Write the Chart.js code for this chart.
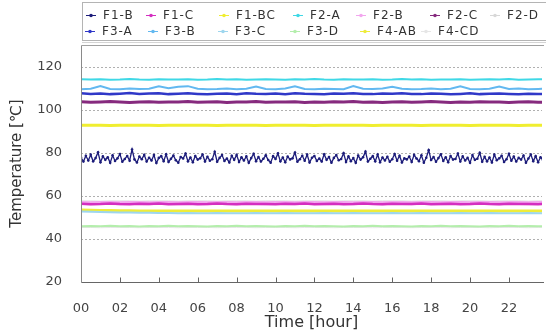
<!DOCTYPE html>
<html>
<head>
<meta charset="utf-8">
<script src="https://cdn.jsdelivr.net/npm/chart.js@4"></script>
<style>
  body { margin: 0; background: #fff; }
  canvas { display: block; }
</style>
</head>
<body>
<canvas id="tempChart" width="546" height="332"></canvas>
<script>
// sensor names, in legend order
const labels = ['F1-B', 'F1-C', 'F1-BC', 'F2-A', 'F2-B', 'F2-C', 'F2-D',
                'F3-A', 'F3-B', 'F3-C', 'F3-D', 'F4-AB', 'F4-CD'];

const xTicks = [0, 2, 4, 6, 8, 10, 12, 14, 16, 18, 20, 22];
const yTicks = [20, 40, 60, 80, 100, 120];

// sample times [hour]
const halfHours = [0, 0.5, 1, 1.5, 2, 2.5, 3, 3.5, 4, 4.5, 5, 5.5, 6, 6.5, 7, 7.5,
    8, 8.5, 9, 9.5, 10, 10.5, 11, 11.5, 12, 12.5, 13, 13.5, 14, 14.5, 15, 15.5,
    16, 16.5, 17, 17.5, 18, 18.5, 19, 19.5, 20, 20.5, 21, 21.5, 22, 22.5, 23, 23.5, 24];

const eighthHours = [
    0, 0.125, 0.25, 0.375, 0.5, 0.625, 0.75, 0.875,
    1, 1.125, 1.25, 1.375, 1.5, 1.625, 1.75, 1.875,
    2, 2.125, 2.25, 2.375, 2.5, 2.625, 2.75, 2.875,
    3, 3.125, 3.25, 3.375, 3.5, 3.625, 3.75, 3.875,
    4, 4.125, 4.25, 4.375, 4.5, 4.625, 4.75, 4.875,
    5, 5.125, 5.25, 5.375, 5.5, 5.625, 5.75, 5.875,
    6, 6.125, 6.25, 6.375, 6.5, 6.625, 6.75, 6.875,
    7, 7.125, 7.25, 7.375, 7.5, 7.625, 7.75, 7.875,
    8, 8.125, 8.25, 8.375, 8.5, 8.625, 8.75, 8.875,
    9, 9.125, 9.25, 9.375, 9.5, 9.625, 9.75, 9.875,
    10, 10.125, 10.25, 10.375, 10.5, 10.625, 10.75, 10.875,
    11, 11.125, 11.25, 11.375, 11.5, 11.625, 11.75, 11.875,
    12, 12.125, 12.25, 12.375, 12.5, 12.625, 12.75, 12.875,
    13, 13.125, 13.25, 13.375, 13.5, 13.625, 13.75, 13.875,
    14, 14.125, 14.25, 14.375, 14.5, 14.625, 14.75, 14.875,
    15, 15.125, 15.25, 15.375, 15.5, 15.625, 15.75, 15.875,
    16, 16.125, 16.25, 16.375, 16.5, 16.625, 16.75, 16.875,
    17, 17.125, 17.25, 17.375, 17.5, 17.625, 17.75, 17.875,
    18, 18.125, 18.25, 18.375, 18.5, 18.625, 18.75, 18.875,
    19, 19.125, 19.25, 19.375, 19.5, 19.625, 19.75, 19.875,
    20, 20.125, 20.25, 20.375, 20.5, 20.625, 20.75, 20.875,
    21, 21.125, 21.25, 21.375, 21.5, 21.625, 21.75, 21.875,
    22, 22.125, 22.25, 22.375, 22.5, 22.625, 22.75, 22.875,
    23, 23.125, 23.25, 23.375, 23.5, 23.625, 23.75, 23.875,
    24];

// temperatures [C]
const f1b = [
    77.8, 75.9, 78.6, 76.4, 79.1, 76.0, 77.5, 80.2, 75.6, 78.3, 76.7, 77.9, 75.3, 78.8, 76.2, 77.4,
    79.4, 75.8, 77.1, 78.5, 76.3, 81.5, 76.9, 75.5, 78.2, 77.0, 79.0, 75.9, 77.7, 76.4, 78.9, 75.2,
    77.6, 78.4, 76.1, 79.3, 75.7, 77.2, 78.7, 76.5, 75.4, 78.0, 77.3, 79.6, 76.0, 77.8, 75.6, 78.5,
    76.8, 77.4, 79.2, 75.9, 78.1, 76.3, 77.0, 80.4, 75.8, 77.6, 78.9, 76.2, 77.3, 75.5, 78.6, 76.7,
    79.0, 75.7, 77.9, 76.4, 78.3, 75.3, 77.5, 79.5, 76.1, 78.0, 75.9, 77.2, 78.8, 76.6, 75.4, 78.4,
    77.1, 79.7, 76.0, 77.8, 75.6, 78.2, 76.9, 77.4, 80.1, 75.8, 77.0, 78.6, 76.3, 79.1, 75.5, 77.7,
    78.5, 76.2, 77.3, 75.9, 79.3, 76.7, 78.0, 75.4, 77.6, 78.9, 76.5, 77.1, 79.8, 75.7, 78.3, 76.1,
    77.5, 75.3, 78.7, 76.8, 77.9, 80.5, 75.9, 77.2, 78.4, 76.0, 79.2, 75.6, 77.8, 76.4, 78.1, 75.8,
    77.0, 79.4, 76.3, 78.6, 75.5, 77.4, 76.9, 78.2, 75.7, 79.0, 77.3, 76.1, 78.8, 75.4, 77.7, 81.2,
    76.6, 78.0, 75.8, 77.5, 79.3, 76.2, 77.9, 75.6, 78.5, 76.8, 77.1, 79.6, 75.9, 78.3, 76.4, 77.6,
    75.3, 78.9, 76.7, 77.2, 80.0, 75.8, 78.1, 76.0, 77.8, 75.5, 79.1, 76.5, 77.4, 78.6, 75.7, 77.0,
    79.5, 76.3, 78.2, 75.9, 77.6, 76.8, 78.7, 75.4, 77.3, 79.2, 76.1, 78.4, 75.6, 77.9, 76.6, 78.0,
    77.2];

const f1c = [
    56.3, 56.1, 56.2, 56.4, 56.2, 56.1, 56.3, 56.2, 56.4, 56.1,
    56.2, 56.3, 56.1, 56.2, 56.4, 56.2, 56.1, 56.3, 56.2, 56.2,
    56.1, 56.3, 56.2, 56.4, 56.1, 56.2, 56.3, 56.1, 56.2, 56.4,
    56.2, 56.1, 56.3, 56.2, 56.2, 56.4, 56.1, 56.2, 56.3, 56.1,
    56.2, 56.4, 56.2, 56.1, 56.3, 56.2, 56.2, 56.1, 56.3];

const f1bc = [
    92.7, 92.8, 92.7, 92.6, 92.7, 92.7, 92.8, 92.7, 92.6, 92.7,
    92.7, 92.8, 92.7, 92.7, 92.6, 92.7, 92.8, 92.7, 92.7, 92.6,
    92.7, 92.7, 92.8, 92.7, 92.6, 92.7, 92.7, 92.8, 92.7, 92.7,
    92.6, 92.7, 92.8, 92.7, 92.7, 92.6, 92.7, 92.7, 92.8, 92.7,
    92.6, 92.7, 92.7, 92.8, 92.7, 92.6, 92.7, 92.7, 92.7];

const f2a = [
    114.1, 114.0, 114.1, 113.9, 114.0, 114.2, 114.0, 113.9, 114.1, 114.0,
    114.0, 114.1, 113.9, 114.0, 114.2, 114.0, 114.1, 113.9, 114.0, 114.1,
    114.0, 113.9, 114.1, 114.0, 114.2, 114.0, 113.9, 114.1, 114.0, 114.0,
    114.1, 113.9, 114.0, 114.2, 114.0, 114.1, 113.9, 114.0, 114.0, 114.1,
    113.9, 114.0, 114.1, 114.0, 114.2, 113.9, 114.0, 114.1, 114.0];

const f2b = [
    56.7, 56.6, 56.7, 56.7, 56.6, 56.7, 56.7, 56.6, 56.7, 56.7,
    56.6, 56.7, 56.7, 56.6, 56.7, 56.7, 56.6, 56.7, 56.7, 56.6,
    56.7, 56.7, 56.6, 56.7, 56.7, 56.6, 56.7, 56.7, 56.6, 56.7,
    56.7, 56.6, 56.7, 56.7, 56.6, 56.7, 56.7, 56.6, 56.7, 56.7,
    56.6, 56.7, 56.7, 56.6, 56.7, 56.7, 56.6, 56.7, 56.7];

const f2c = [
    103.7, 103.4, 103.6, 103.8, 103.5, 103.3, 103.6, 103.7, 103.4, 103.6,
    103.5, 103.8, 103.4, 103.6, 103.7, 103.3, 103.5, 103.6, 103.8, 103.4,
    103.6, 103.5, 103.7, 103.3, 103.6, 103.4, 103.7, 103.5, 103.8, 103.4,
    103.6, 103.3, 103.5, 103.7, 103.4, 103.6, 103.8, 103.5, 103.3, 103.6,
    103.4, 103.7, 103.5, 103.6, 103.3, 103.5, 103.7, 103.4, 103.6];

const f2d = [
    57.6, 57.6, 57.5, 57.6, 57.6, 57.6, 57.5, 57.6, 57.6, 57.6,
    57.5, 57.6, 57.6, 57.6, 57.5, 57.6, 57.6, 57.6, 57.5, 57.6,
    57.6, 57.6, 57.5, 57.6, 57.6, 57.6, 57.5, 57.6, 57.6, 57.6,
    57.5, 57.6, 57.6, 57.6, 57.5, 57.6, 57.6, 57.6, 57.5, 57.6,
    57.6, 57.6, 57.5, 57.6, 57.6, 57.6, 57.5, 57.6, 57.6];

const f3a = [
    107.6, 107.3, 107.5, 107.2, 107.4, 107.7, 107.3, 107.5, 107.6, 107.2,
    107.4, 107.6, 107.3, 107.1, 107.4, 107.5, 107.2, 107.6, 107.4, 107.3,
    107.5, 107.2, 107.6, 107.4, 107.3, 107.1, 107.5, 107.4, 107.6, 107.3,
    107.2, 107.5, 107.4, 107.6, 107.3, 107.2, 107.5, 107.4, 107.1, 107.3,
    107.6, 107.2, 107.4, 107.5, 107.3, 107.1, 107.4, 107.2, 107.3];

const f3b = [
    109.5, 109.7, 110.9, 109.6, 109.5, 109.8, 109.6, 109.7, 110.8, 109.9,
    110.6, 110.9, 109.7, 109.5, 109.6, 109.8, 109.5, 109.7, 110.7, 109.6,
    109.5, 109.8, 110.8, 109.6, 109.5, 109.7, 109.6, 109.5, 111.0, 109.7,
    109.6, 109.8, 110.6, 109.7, 109.5, 109.6, 109.8, 109.5, 109.7, 110.8,
    109.6, 109.5, 109.7, 110.7, 109.6, 109.8, 109.5, 109.6, 109.7];

const f3c = [
    52.7, 52.6, 52.5, 52.4, 52.3, 52.2, 52.1, 52.1, 52.0, 52.0,
    51.9, 52.0, 51.9, 51.9, 52.0, 51.9, 51.9, 51.9, 52.0, 51.9,
    51.9, 52.0, 51.9, 51.9, 51.9, 52.0, 51.9, 51.9, 52.0, 51.9,
    51.9, 51.9, 52.0, 51.9, 51.9, 52.0, 51.9, 51.9, 51.9, 52.0,
    51.9, 51.9, 52.0, 51.9, 51.9, 51.9, 52.0, 51.9, 51.9];

const f3d = [
    45.9, 46.0, 45.9, 46.1, 45.9, 46.0, 45.8, 46.0, 45.9, 46.1,
    45.9, 46.0, 45.9, 45.8, 46.0, 45.9, 46.1, 45.9, 46.0, 45.9,
    45.8, 46.0, 45.9, 46.1, 45.9, 46.0, 45.9, 45.8, 46.0, 45.9,
    46.1, 45.9, 46.0, 45.9, 45.8, 46.0, 45.9, 46.1, 45.9, 46.0,
    45.9, 45.8, 46.0, 45.9, 46.1, 45.9, 46.0, 45.9, 45.9];

const f4ab = [
    53.4, 53.3, 53.2, 53.2, 53.1, 53.1, 53.0, 53.0, 53.0, 52.9,
    52.9, 53.0, 52.9, 52.9, 53.0, 52.9, 52.9, 52.9, 53.0, 52.9,
    52.9, 53.0, 52.9, 52.9, 52.9, 53.0, 52.9, 52.9, 53.0, 52.9,
    52.9, 52.9, 53.0, 52.9, 52.9, 53.0, 52.9, 52.9, 52.9, 53.0,
    52.9, 52.9, 53.0, 52.9, 52.9, 52.9, 53.0, 52.9, 52.9];

const f4cd = [
    45.3, 45.3, 45.2, 45.3, 45.3, 45.3, 45.2, 45.3, 45.3, 45.3,
    45.2, 45.3, 45.3, 45.3, 45.2, 45.3, 45.3, 45.3, 45.2, 45.3,
    45.3, 45.3, 45.2, 45.3, 45.3, 45.3, 45.2, 45.3, 45.3, 45.3,
    45.2, 45.3, 45.3, 45.3, 45.2, 45.3, 45.3, 45.3, 45.2, 45.3,
    45.3, 45.3, 45.2, 45.3, 45.3, 45.3, 45.2, 45.3, 45.3];

const colors = ['#1c1c7a', '#d42fc0', '#f0ee30', '#3fd8e6', '#f2a6ee', '#862a7e', '#d8d8d8',
                '#3038c8', '#62b8f0', '#9ed6ee', '#b4eeac', '#eeec3a', '#e6e6e6'];
const widths = [1.3, 2.5, 3, 2, 4, 3, 1, 2.5, 2, 2, 2, 3, 1];

const seriesValues = [f1b, f1c, f1bc, f2a, f2b, f2c, f2d, f3a, f3b, f3c, f3d, f4ab, f4cd];

function toPoints(times, vals) {
    return vals.map((v, i) => ({ x: times[i], y: v }));
}

const datasets = labels.map((name, i) => ({
    label: name,
    data: toPoints(i === 0 ? eighthHours : halfHours, seriesValues[i]),
    borderColor: colors[i],
    backgroundColor: colors[i],
    borderWidth: widths[i],
    pointRadius: i === 0 ? 1.3 : 0,
    pointBorderWidth: 0,
    tension: 0
}));

// two-row boxed legend like the original plot
const legendBox = {
    id: 'legendBox',
    afterDraw(chart) {
        const ctx = chart.ctx;
        const rows = [[103, 163, 236, 310, 373, 447, 507], [102, 165, 235, 307, 377, 438]];
        const rowY = [15, 31];
        ctx.save();
        ctx.strokeStyle = '#b4b4b4';
        ctx.lineWidth = 1;
        ctx.strokeRect(82.5, 2.5, 480, 38);
        ctx.strokeStyle = '#d4d4d4';
        ctx.beginPath();
        ctx.moveTo(82, 42.5);
        ctx.lineTo(546, 42.5);
        ctx.stroke();

        ctx.font = '12px "DejaVu Sans"';
        ctx.letterSpacing = '1px';
        ctx.textBaseline = 'middle';
        let k = 0;
        rows.forEach((cols, r) => {
            cols.forEach(x => {
                const ds = chart.data.datasets[k++];
                const y = rowY[r];
                ctx.strokeStyle = ds.borderColor;
                ctx.lineWidth = 1;
                ctx.beginPath();
                ctx.moveTo(x - 17, y + 0.5);
                ctx.lineTo(x - 7, y + 0.5);
                ctx.stroke();
                ctx.fillStyle = ds.borderColor;
                ctx.beginPath();
                ctx.arc(x - 12, y + 0.5, 1.8, 0, Math.PI * 2);
                ctx.fill();
                ctx.fillStyle = '#333';
                ctx.fillText(ds.label, x, y + 1);
            });
        });
        ctx.restore();
    }
};

// dotted grid behind the data
const gridLines = {
    id: 'gridLines',
    beforeDatasetsDraw(chart) {
        const { ctx, chartArea } = chart;
        const ys = chart.scales.y;
        ctx.save();
        ctx.strokeStyle = '#b0b0b0';
        ctx.lineWidth = 1;
        ctx.setLineDash([2, 2]);
        yTicks.forEach(v => {
            if (v === 20) return;
            const py = Math.round(ys.getPixelForValue(v)) + 0.5;
            ctx.beginPath();
            ctx.moveTo(chartArea.left, py);
            ctx.lineTo(chartArea.right, py);
            ctx.stroke();
        });
        ctx.restore();
    }
};

// plot frame and small inward ticks on the time axis
const frame = {
    id: 'frame',
    afterDatasetsDraw(chart) {
        const { ctx, chartArea } = chart;
        const xs = chart.scales.x;
        const l = chartArea.left + 0.5, b = chartArea.bottom + 0.5, t = chartArea.top + 0.5;
        ctx.save();
        ctx.lineWidth = 1;
        ctx.strokeStyle = '#a0a0a0';
        ctx.beginPath();
        ctx.moveTo(l, t);
        ctx.lineTo(chartArea.right + 2, t);
        ctx.stroke();
        ctx.strokeStyle = '#8a8a8a';
        ctx.beginPath();
        ctx.moveTo(l, t);
        ctx.lineTo(l, b);
        ctx.stroke();
        ctx.strokeStyle = '#666';
        ctx.beginPath();
        ctx.moveTo(l, b);
        ctx.lineTo(chartArea.right + 2, b);
        ctx.stroke();
        xTicks.forEach(v => {
            if (v === 0) return;
            const px = Math.round(xs.getPixelForValue(v)) + 0.5;
            ctx.beginPath();
            ctx.moveTo(px, b);
            ctx.lineTo(px, b - 5);
            ctx.stroke();
        });
        ctx.restore();
    }
};

const chart = new Chart(document.getElementById('tempChart'), {
    type: 'line',
    data: { datasets: datasets },
    options: {
        responsive: false,
        animation: false,
        layout: { padding: { left: 0, right: 1, top: 45, bottom: 0 } },
        plugins: {
            legend: { display: false },
            tooltip: { enabled: false }
        },
        scales: {
            x: {
                type: 'linear',
                min: 0,
                max: 23.7,
                afterFit: s => { s.height = 50; },
                afterBuildTicks: s => { s.ticks = xTicks.map(v => ({ value: v })); },
                grid: { display: false },
                border: { display: false },
                ticks: {
                    padding: 11,
                    color: '#444',
                    font: { family: 'DejaVu Sans', size: 13 },
                    callback: v => String(v).padStart(2, '0')
                },
                title: {
                    display: true,
                    text: 'Time [hour]',
                    color: '#333',
                    font: { family: 'DejaVu Sans', size: 16 },
                    padding: { top: 0, bottom: 0 }
                }
            },
            y: {
                min: 20,
                max: 130,
                afterFit: s => { s.width = 81; },
                afterBuildTicks: s => { s.ticks = yTicks.map(v => ({ value: v })); },
                grid: { display: false, drawTicks: false },
                border: { display: false },
                ticks: {
                    padding: 19,
                    color: '#444',
                    font: { family: 'DejaVu Sans', size: 13 }
                },
                title: {
                    display: true,
                    text: 'Temperature [℃]',
                    color: '#333',
                    font: { family: 'DejaVu Sans', size: 15 },
                    padding: { top: 8, bottom: 0 }
                }
            }
        }
    },
    plugins: [gridLines, legendBox, frame]
});
</script>
</body>
</html>
